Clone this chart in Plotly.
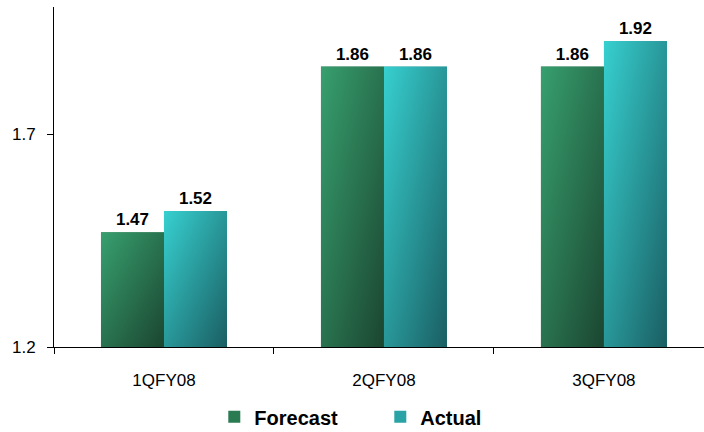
import base64
import plotly.graph_objects as go

# Quarterly EPS: forecast vs actual
quarters = ["1QFY08", "2QFY08", "3QFY08"]
forecast = [1.47, 1.86, 1.86]
actual = [1.52, 1.86, 1.92]
y_ticks = [1.2, 1.7]

Y_MIN, Y_MAX = 1.2, 2.0
BARGAP = 0.427

# (light top-left, dark bottom-right, flat legend colour)
palette = {
    "Forecast": ("#37a06f", "#1b4530", "#2a7a52"),
    "Actual": ("#37d0d0", "#1a5e62", "#29a3a6"),
}


def gradient_uri(light, dark):
    svg = (
        '<svg xmlns="http://www.w3.org/2000/svg" width="100" height="100" '
        'viewBox="0 0 100 100" preserveAspectRatio="none">'
        '<defs><linearGradient id="g" x1="0" y1="0" x2="1" y2="1">'
        f'<stop offset="0" stop-color="{light}"/>'
        f'<stop offset="1" stop-color="{dark}"/>'
        '</linearGradient></defs>'
        '<rect width="100" height="100" fill="url(#g)"/></svg>'
    )
    return "data:image/svg+xml;base64," + base64.b64encode(svg.encode()).decode()


fig = go.Figure()
series = [("Forecast", forecast), ("Actual", actual)]
for name, vals in series:
    fig.add_trace(go.Bar(
        name=name, x=quarters, y=[v - Y_MIN for v in vals], base=Y_MIN,
        marker=dict(color=palette[name][2], line=dict(width=0)),
        text=[f"{v:.2f}" for v in vals], textposition="outside",
        textfont=dict(family="Liberation Sans, Arial", size=17, color="#000000",
                      weight="bold"),
        cliponaxis=False,
    ))

# gradient fill laid over each bar, placed from the same values on the axes
group_w = 1 - BARGAP
bar_w = group_w / len(series)
images = []
for k, (name, vals) in enumerate(series):
    uri = gradient_uri(palette[name][0], palette[name][1])
    for i, v in enumerate(vals):
        images.append(dict(
            source=uri, xref="x", yref="y",
            x=i - group_w / 2 + k * bar_w, y=v,
            sizex=bar_w, sizey=v - Y_MIN,
            xanchor="left", yanchor="top", sizing="stretch", layer="above",
        ))

fig.update_layout(
    width=704, height=432,
    margin=dict(l=54, r=0, t=7, b=85, autoexpand=False),
    paper_bgcolor="white", plot_bgcolor="white",
    barmode="group", bargap=BARGAP, bargroupgap=0,
    images=images,
    font=dict(family="Liberation Sans, Arial", size=17, color="#000000"),
    showlegend=True,
    legend=dict(
        orientation="h", x=0.502, xanchor="center",
        y=-0.148, yanchor="top",
        font=dict(size=20, weight="bold"), itemsizing="constant",
        entrywidth=121, entrywidthmode="pixels",
    ),
    xaxis=dict(
        type="category", range=[-0.5, 2.455],
        showline=True, linecolor="#000000", linewidth=1,
        ticks="outside", tickson="boundaries", ticklen=6, tickcolor="#000000",
        showgrid=False, ticklabelstandoff=18,
    ),
    yaxis=dict(
        range=[Y_MIN, Y_MAX], tickvals=y_ticks, ticktext=[str(t) for t in y_ticks],
        showline=True, linecolor="#000000", linewidth=1,
        ticks="outside", ticklen=6, tickcolor="#000000",
        showgrid=False, zeroline=False, ticklabelstandoff=8,
    ),
)

fig.write_html("out.html")
